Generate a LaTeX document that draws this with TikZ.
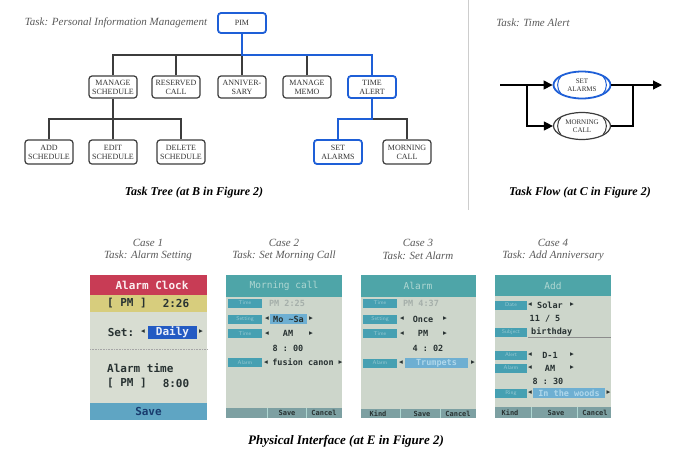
\documentclass[tikz,border=0pt]{standalone}
\usepackage{fontspec}
\setmainfont{Liberation Serif}
\setmonofont{DejaVu Sans Mono}
\newfontfamily\symf{DejaVu Sans}
\usetikzlibrary{shapes.geometric,arrows.meta}
\definecolor{tblue}{RGB}{30,95,215}
\definecolor{bgray}{RGB}{60,60,60}
\definecolor{itgray}{RGB}{90,90,90}
\definecolor{sepgray}{RGB}{205,205,205}
\definecolor{sred}{RGB}{200,60,85}
\definecolor{syellow}{RGB}{215,205,125}
\definecolor{sbg}{RGB}{216,221,210}
\definecolor{sblue}{RGB}{35,90,195}
\definecolor{ssave}{RGB}{95,165,195}
\definecolor{ssavetext}{RGB}{25,60,110}
\definecolor{tbg}{RGB}{205,214,203}
\definecolor{tteal}{RGB}{78,165,168}
\definecolor{tfaint}{RGB}{175,215,210}
\definecolor{lteal}{RGB}{70,160,178}
\definecolor{lfaint}{RGB}{150,200,210}
\definecolor{sdark}{RGB}{40,50,50}
\definecolor{hlblue}{RGB}{110,175,210}
\definecolor{hltext}{RGB}{175,215,235}
\definecolor{tbar}{RGB}{125,160,162}
\definecolor{pfaint}{RGB}{165,175,170}
\tikzset{
  tbox/.style={draw=bgray, line width=1.2pt, rounded corners=3pt, minimum width=48pt,
    minimum height=22pt, inner sep=0pt, align=center, text=black!80,
    font=\fontsize{8}{9}\selectfont},
  tboxb/.style={tbox, draw=tblue, line width=1.8pt},
  tline/.style={draw=bgray, line width=1.2pt},
  bline/.style={draw=tblue, line width=1.8pt},
  itl/.style={font=\itshape\fontsize{11}{12}\selectfont, text=itgray, inner sep=0pt},
  captxt/.style={font=\bfseries\itshape\fontsize{12}{13}\selectfont, inner sep=0pt},
  fell/.style={ellipse, draw=bgray, line width=1.2pt, minimum width=57pt, minimum height=27pt,
    inner sep=0pt, align=center, font=\fontsize{7}{8.5}\selectfont, text=black!80},
  fellb/.style={fell, draw=tblue, line width=1.8pt},
  farrow/.style={line width=1.2pt, draw=black, -{Triangle[length=9pt,width=9pt]}},
  big/.style={font=\ttfamily\bfseries\fontsize{11}{12}\selectfont, inner sep=0pt, text=sdark},
  scr/.style={font=\ttfamily\bfseries\fontsize{8.5}{9}\selectfont, inner sep=0pt, text=sdark},
  ttl/.style={font=\ttfamily\fontsize{9.5}{10}\selectfont, inner sep=0pt, text=tfaint},
  lbl/.style={fill=lteal, minimum width=34pt, minimum height=9pt, inner sep=0pt, text=lfaint,
    font=\sffamily\fontsize{5.5}{6}\selectfont},
  arr/.style={font=\symf\fontsize{7.5}{7.5}\selectfont, inner sep=0pt, text=sdark},
  hl/.style={fill=hlblue, minimum height=10pt, inner sep=0pt, text=sdark,
    font=\ttfamily\bfseries\fontsize{8.5}{9}\selectfont},
  btn/.style={font=\ttfamily\bfseries\fontsize{7}{8}\selectfont, inner sep=0pt, text=sdark},
}
\begin{document}
\begin{tikzpicture}[x=1pt,y=-1pt]
\useasboundingbox (0,0) rectangle (673,451);
\fill[white] (0,0) rectangle (673,451);

% ---------------- Task tree ----------------
\node[itl] (ttpim) at (116,23) {Task: Personal Information Management};
\node[tboxb, minimum height=20pt] (pim) at (242,23) {PIM};
\node[tbox] (ms) at (113,87) {MANAGE\\SCHEDULE};
\node[tbox] (rc) at (176,87) {RESERVED\\CALL};
\node[tbox] (an) at (242,87) {ANNIVER-\\SARY};
\node[tbox] (mm) at (307,87) {MANAGE\\MEMO};
\node[tboxb] (ta) at (372,87) {TIME\\ALERT};
\node[tbox, minimum height=24pt] (as) at (49,152) {ADD\\SCHEDULE};
\node[tbox, minimum height=24pt] (es) at (113,152) {EDIT\\SCHEDULE};
\node[tbox, minimum height=24pt] (ds) at (181,152) {DELETE\\SCHEDULE};
\node[tboxb, minimum height=24pt] (sa) at (338,152) {SET\\ALARMS};
\node[tbox, minimum height=24pt] (mc) at (407,152) {MORNING\\CALL};
\coordinate (bar1) at (0,55);
\coordinate (bar2) at (0,119);
\draw[tline] (ms.north) |- (bar1 -| ta.north) -- (ta.north);
\draw[tline] (rc.north) -- (rc.north |- bar1);
\draw[tline] (an.north) -- (an.north |- bar1);
\draw[tline] (mm.north) -- (mm.north |- bar1);
\draw[tline] (ms.south) -- (ms.south |- bar2);
\draw[tline] (as.north) |- (bar2 -| ds.north) -- (ds.north);
\draw[tline] (es.north) -- (es.north |- bar2);
\draw[tline] (ta.south) -- (ta.south |- bar2);
\draw[tline] (sa.north) |- (bar2 -| mc.north) -- (mc.north);
\draw[bline] (pim.south) -- (pim.south |- bar1) -| (ta.north);
\draw[bline] (ta.south) -- (ta.south |- bar2) -| (sa.north);
\node[captxt] (capB) at (194,193) {Task Tree (at B in Figure 2)};

% separator
\draw[sepgray, line width=0.8pt] (468,0) -- (468,210);

% ---------------- Task flow ----------------
\node[itl] (ttta) at (533,23) {Task: Time Alert};
\node[fellb] (fsa) at (582,85) {SET\\ALARMS};
\node[fell] (fmc) at (582,126) {MORNING\\CALL};
\foreach \n/\c in {fsa/tblue,fmc/bgray}{
  \draw[\c, line width=1pt] ([shift={(-21,-8.8)}]\n.center) .. controls ([shift={(-25.5,-4)}]\n.center) and ([shift={(-25.5,4)}]\n.center) .. ([shift={(-21,8.8)}]\n.center);
  \draw[\c, line width=1pt] ([shift={(21,-8.8)}]\n.center) .. controls ([shift={(25.5,-4)}]\n.center) and ([shift={(25.5,4)}]\n.center) .. ([shift={(21,8.8)}]\n.center);
}
\coordinate (fin) at (500,85);
\coordinate (fsplit) at (527,85);
\coordinate (fmerge) at (633,85);
\coordinate (fout) at (662,85);
\draw[farrow] (fin) -- (fsa.west);
\draw[farrow] (fsplit) |- (fmc.west);
\draw[farrow] (fsa.east) -- (fout);
\draw[line width=1.2pt] (fmc.east) -| (fmerge);
\node[captxt] (capC) at (580,193) {Task Flow (at C in Figure 2)};

% ---------------- Physical interface ----------------
\node[itl] (c1a) at (148,243) {Case 1};
\node[itl] (c1b) at (148,256) {Task: Alarm Setting};
\node[itl] (c2a) at (284,243) {Case 2};
\node[itl] (c2b) at (284,256) {Task: Set Morning Call};
\node[itl] (c3a) at (418,243) {Case 3};
\node[itl] (c3b) at (418,256) {Task: Set Alarm};
\node[itl] (c4a) at (553,243) {Case 4};
\node[itl] (c4b) at (553,256) {Task: Add Anniversary};

% Screen 1
\begin{scope}[shift={(90,275)}]
\fill[sbg] (0,0) rectangle (117,145);
\fill[sred] (0,0) rectangle (117,20);
\fill[syellow] (0,20) rectangle (117,37);
\node[big, text=white!92!sred] (s1t) at (62,10.5) {Alarm Clock};
\node[big] (s1pm) at (37,28.5) {[ PM ]};
\node[big] (s1tm) at (86,28.5) {2:26};
\node[big] (s1set) at (31,57) {Set:};
\node[arr] (s1l) at (53,57) {◂};
\node[fill=sblue, minimum width=49pt, minimum height=13pt, inner sep=0pt,
      font=\ttfamily\bfseries\fontsize{11}{12}\selectfont, text=white!90!sblue] (s1d) at (82.5,57) {Daily};
\node[arr] (s1r) at (111,57) {▸};
\draw[black!35, densely dotted, line width=0.6pt] (0,74) -- (117,74);
\node[big, anchor=west] (s1at) at (17,93) {Alarm time};
\node[big] (s1pm2) at (37,108) {[ PM ]};
\node[big] (s1tm2) at (86,108) {8:00};
\fill[ssave] (0,128) rectangle (117,145);
\node[big, text=ssavetext] (s1save) at (58.5,136.5) {Save};
\end{scope}

% Screen 2
\begin{scope}[shift={(226,275)}]
\fill[tbg] (0,0) rectangle (116,143);
\fill[tteal] (0,0) rectangle (116,22);
\node[ttl] (s2t) at (58,11) {Morning call};
\node[lbl] (s2a) at (19,28) {Time};
\node[scr, text=pfaint] (s2av) at (61,28) {PM 2:25};
\node[lbl] (s2b) at (19,44) {Setting};
\node[arr] (s2bl) at (41,44) {◂};
\node[hl, minimum width=37pt] (s2bv) at (62.5,44) {Mo \textasciitilde Sa};
\node[arr] (s2br) at (85,44) {▸};
\node[lbl] (s2c) at (19,58.5) {Time};
\node[arr] (s2cl) at (41,58.5) {◂};
\node[scr] (s2cv) at (62,58.5) {AM};
\node[arr] (s2cr) at (85,58.5) {▸};
\node[scr] (s2d) at (62,73) {8 : 00};
\node[lbl] (s2e) at (19,87.5) {Alarm};
\node[arr] (s2el) at (40,87.5) {◂};
\node[scr] (s2ev) at (77,87.5) {fusion canon};
\node[arr] (s2er) at (114.5,87.5) {▸};
\fill[tbar] (0,133) rectangle (116,143);
\draw[tfaint, line width=0.6pt] (41,133) -- (41,143) (80,133) -- (80,143);
\node[btn] (s2s) at (61,138) {Save};
\node[btn] (s2c2) at (98,138) {Cancel};
\end{scope}

% Screen 3
\begin{scope}[shift={(361,275)}]
\fill[tbg] (0,0) rectangle (115,143);
\fill[tteal] (0,0) rectangle (115,22);
\node[ttl] (s3t) at (57,11) {Alarm};
\node[lbl] (s3a) at (19,28) {Time};
\node[scr, text=pfaint] (s3av) at (60,28) {PM 4:37};
\node[lbl] (s3b) at (19,44) {Setting};
\node[arr] (s3bl) at (41,44) {◂};
\node[scr] (s3bv) at (62,44) {Once};
\node[arr] (s3br) at (84,44) {▸};
\node[lbl] (s3c) at (19,58.5) {Time};
\node[arr] (s3cl) at (41,58.5) {◂};
\node[scr] (s3cv) at (62,58.5) {PM};
\node[arr] (s3cr) at (84,58.5) {▸};
\node[scr] (s3d) at (67,73) {4 : 02};
\node[lbl] (s3e) at (19,88) {Alarm};
\node[arr] (s3el) at (40,88) {◂};
\node[hl, minimum width=63pt, text=hltext] (s3ev) at (75.5,88) {Trumpets};
\node[arr] (s3er) at (112,88) {▸};
\fill[tbar] (0,134) rectangle (115,143);
\draw[tfaint, line width=0.6pt] (39,134) -- (39,143) (79,134) -- (79,143);
\node[btn] (s3k) at (17,138.5) {Kind};
\node[btn] (s3s) at (61,138.5) {Save};
\node[btn] (s3c2) at (97,138.5) {Cancel};
\end{scope}

% Screen 4
\begin{scope}[shift={(495,275)}]
\fill[tbg] (0,0) rectangle (116,143);
\fill[tteal] (0,0) rectangle (116,21);
\node[ttl] (s4t) at (58,10.5) {Add};
\node[lbl, minimum width=32pt] (s4a) at (16,30) {Date};
\node[arr] (s4al) at (35,30) {◂};
\node[scr] (s4av) at (55,30) {Solar};
\node[arr] (s4ar) at (77,30) {▸};
\node[scr] (s4b) at (50,44) {11 / 5};
\node[lbl, minimum width=32pt] (s4c) at (16,57) {Subject};
\node[scr, anchor=west] (s4cv) at (36,57) {birthday};
\draw[black!45, line width=0.6pt] (33,62.5) -- (116,62.5);
\node[lbl, minimum width=32pt] (s4d) at (16,80) {Alert};
\node[arr] (s4dl) at (35,80) {◂};
\node[scr] (s4dv) at (55,80) {D-1};
\node[arr] (s4dr) at (77,80) {▸};
\node[lbl, minimum width=32pt] (s4e) at (16,93) {Alarm};
\node[arr] (s4el) at (35,93) {◂};
\node[scr] (s4ev) at (55,93) {AM};
\node[arr] (s4er) at (77,93) {▸};
\node[scr] (s4f) at (53,106) {8 : 30};
\node[lbl, minimum width=32pt] (s4g) at (16,118) {Ring};
\node[arr] (s4gl) at (35,118) {◂};
\node[hl, minimum width=72pt, text=hltext] (s4gv) at (74,118) {In the woods};
\node[arr] (s4gr) at (113.5,118) {▸};
\fill[tbar] (0,132) rectangle (116,143);
\draw[tfaint, line width=0.6pt] (36,132) -- (36,143) (82,132) -- (82,143);
\node[btn] (s4k) at (15,137.5) {Kind};
\node[btn] (s4s) at (61,137.5) {Save};
\node[btn] (s4c2) at (100,137.5) {Cancel};
\end{scope}

\node[captxt, font=\bfseries\itshape\fontsize{13}{14}\selectfont] (capE) at (346,441) {Physical Interface (at E in Figure 2)};
\end{tikzpicture}
\end{document}
